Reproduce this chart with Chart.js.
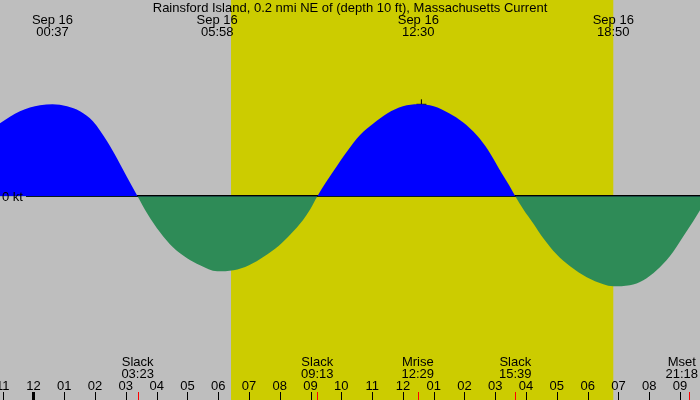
<!DOCTYPE html>
<html>
<head>
<meta charset="utf-8">
<script src="https://cdn.jsdelivr.net/npm/chart.js@4"></script>
<style>
  html, body { margin: 0; padding: 0; background: #bebebe; }
  #wrap { width: 700px; height: 400px; }
</style>
</head>
<body>
<div id="wrap"><canvas id="tideChart" width="700" height="400"></canvas></div>
<script>
// Time in hours from midnight Sep 16, current speed in knots (flood +, ebb -)
const hours = [-1.09, -0.44, 0.21, 0.62, 1.09, 1.51, 1.93, 2.39, 2.71, 3.04, 3.38,
  3.69, 4.11, 4.53, 4.99, 5.41, 5.97, 6.5, 7.0, 7.5, 7.95, 8.35, 8.75, 9.0, 9.22,
  9.5, 9.74, 10.19, 10.6, 11.05, 11.5, 12.0, 12.5, 13.0, 13.5, 13.95, 14.4, 14.77, 15.21, 15.45, 15.65,
  15.91, 16.23, 16.56, 16.99, 17.43, 17.97, 18.51, 18.83, 19.37, 19.81, 20.24, 20.67, 21.11, 21.43, 21.65];
const speeds = [0.73, 0.85, 0.91, 0.92, 0.90, 0.85, 0.75, 0.55, 0.38, 0.19, 0,
  -0.17, -0.36, -0.51, -0.62, -0.69, -0.75, -0.74, -0.69, -0.60, -0.50, -0.38, -0.24, -0.125, 0,
  0.14, 0.25, 0.45, 0.61, 0.73, 0.83, 0.90, 0.92, 0.90, 0.83, 0.74, 0.61, 0.46, 0.23, 0.11, 0,
  -0.13, -0.27, -0.42, -0.58, -0.70, -0.81, -0.88, -0.90, -0.89, -0.84, -0.74, -0.60, -0.40, -0.25, -0.14];

const titleText = 'Rainsford Island, 0.2 nmi NE of (depth 10 ft), Massachusetts Current';
const peakDates = ['Sep 16', 'Sep 16', 'Sep 16', 'Sep 16'];
const peakTimes = ['00:37', '05:58', '12:30', '18:50'];
const eventNames = ['Slack', 'Slack', 'Mrise', 'Slack', 'Mset'];
const eventTimes = ['03:23', '09:13', '12:29', '15:39', '21:18'];
const hourTicks = [-1, 0, 1, 2, 3, 4, 5, 6, 7, 8, 9, 10, 11, 12, 13, 14, 15, 16, 17, 18, 19, 20, 21];
const hourLabels = ['11', '12', '01', '02', '03', '04', '05', '06', '07', '08', '09', '10', '11',
  '12', '01', '02', '03', '04', '05', '06', '07', '08', '09'];
const daylight = ['06:25', '18:50'];
const marker = { time: 12.6, speed: 0.92 };

const toHours = s => { const [h, m] = s.split(':').map(Number); return h + m / 60; };
const FONT = '13px "Liberation Sans", Arial, sans-serif';

const backdrop = {
  id: 'backdrop',
  beforeDraw(chart) {
    const { ctx, scales: { x } } = chart;
    ctx.save();
    ctx.fillStyle = '#bebebe';
    ctx.fillRect(0, 0, chart.width, chart.height);
    ctx.fillStyle = '#cccc00';
    const x0 = x.getPixelForValue(toHours(daylight[0]));
    const x1 = x.getPixelForValue(toHours(daylight[1]));
    ctx.fillRect(x0, 0, x1 - x0, chart.height);
    ctx.restore();
  },
  beforeDatasetsDraw(chart) {
    // zero line, drawn under the fills so the ebb area covers it
    const { ctx, scales: { y } } = chart;
    const y0 = Math.round(y.getPixelForValue(0));
    ctx.save();
    ctx.fillStyle = '#000';
    ctx.fillRect(26, y0 - 1, chart.width - 26, 2);
    ctx.restore();
  },
  afterDraw(chart) {
    const { ctx, scales: { x, y } } = chart;
    const W = chart.width;
    ctx.save();
    ctx.font = FONT;
    ctx.fillStyle = '#000';
    ctx.textBaseline = 'alphabetic';
    ctx.textAlign = 'center';
    ctx.fillText(titleText, W / 2, 12);

    // top: max flood / ebb times
    peakTimes.forEach((t, i) => {
      const px = x.getPixelForValue(toHours(t));
      ctx.fillText(peakDates[i], px, 24);
      ctx.fillText(t, px, 36);
    });

    ctx.textAlign = 'left';
    ctx.fillText('0 kt', 2, y.getPixelForValue(0) + 5);

    // bottom events with red ticks
    eventTimes.forEach((t, i) => {
      const px = x.getPixelForValue(toHours(t));
      const w = Math.max(ctx.measureText(eventNames[i]).width, ctx.measureText(t).width);
      let cx = px;
      if (cx + w / 2 > W - 2) cx = W - 2 - w / 2;
      ctx.textAlign = 'center';
      ctx.fillText(eventNames[i], cx, 366);
      ctx.fillText(t, cx, 378);
      ctx.fillStyle = '#ff0000';
      ctx.fillRect(Math.round(px), 392, 1, 8);
      ctx.fillStyle = '#000';
    });

    // hour ticks, heavier at midnight
    ctx.textAlign = 'center';
    hourTicks.forEach((h, i) => {
      const px = x.getPixelForValue(h);
      ctx.fillText(hourLabels[i], px, 390);
      if (h === 0) ctx.fillRect(Math.round(px) - 1, 392, 3, 8);
      else ctx.fillRect(Math.round(px), 392, 1, 8);
    });
    ctx.restore();
  }
};

const ctx = document.getElementById('tideChart').getContext('2d');
new Chart(ctx, {
  type: 'line',
  data: {
    datasets: [{
      data: hours.map((h, i) => ({ x: h, y: speeds[i] })),
      borderWidth: 0,
      borderColor: 'rgba(0,0,0,0)',
      pointRadius: 0,
      cubicInterpolationMode: 'monotone',
      fill: { target: 'origin', above: '#0000ff', below: '#2e8b57' }
    }, {
      data: [{ x: marker.time, y: marker.speed }],
      showLine: false,
      fill: false,
      pointStyle: 'cross',
      pointRadius: 5,
      borderColor: '#000',
      borderWidth: 1
    }]
  },
  options: {
    responsive: false,
    animation: false,
    devicePixelRatio: 1,
    layout: { padding: 0, autoPadding: false },
    plugins: { legend: { display: false }, tooltip: { enabled: false } },
    scales: {
      x: { type: 'linear', min: -1.088, max: 21.65, display: false },
      y: { min: -2.037, max: 1.963, display: false }
    }
  },
  plugins: [backdrop]
});
</script>
</body>
</html>
